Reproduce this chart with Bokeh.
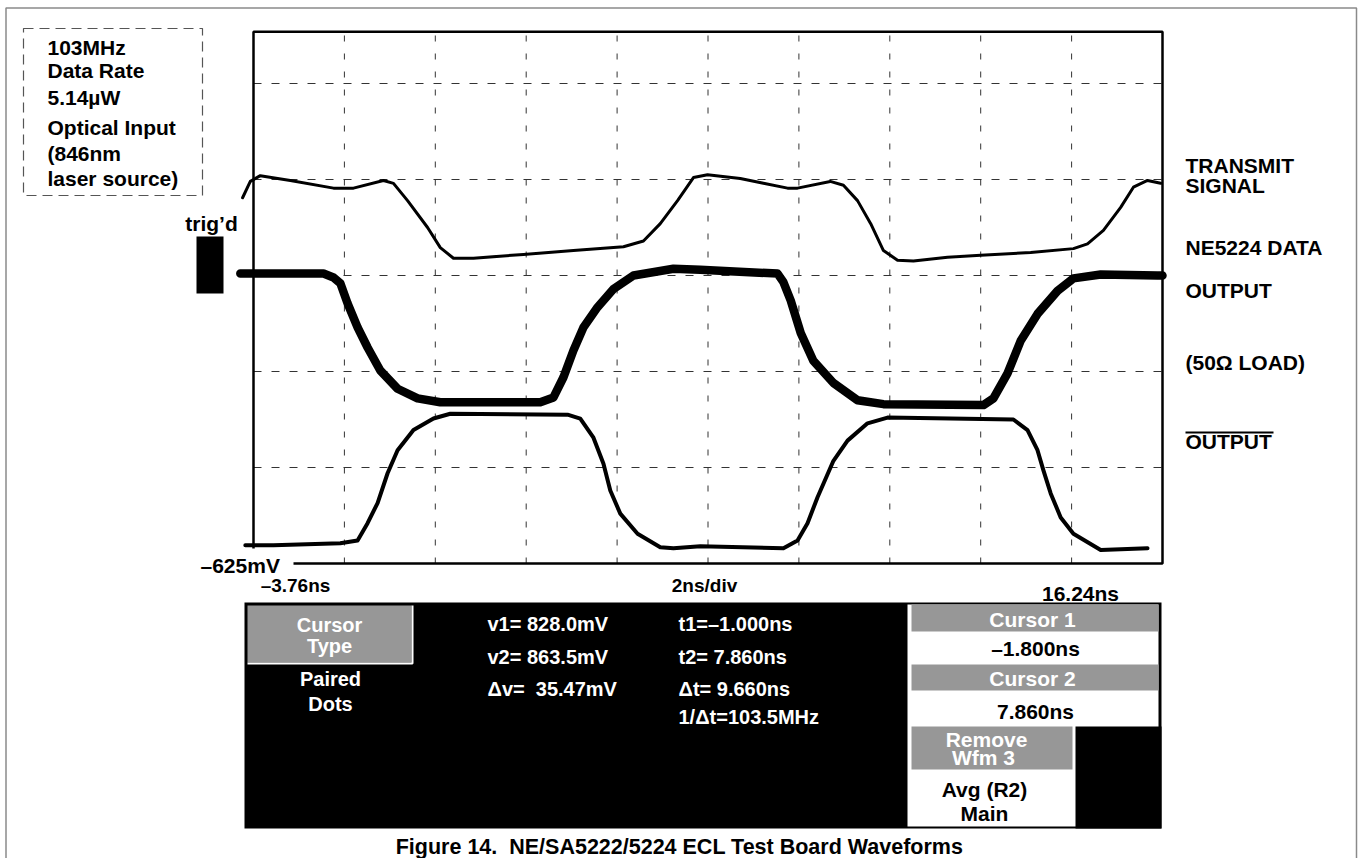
from bokeh.plotting import figure
from bokeh.models import Range1d, Label
from bokeh.embed import file_html
from bokeh.resources import INLINE

# ---------------- data (time in ns, amplitude in screen divisions) ----------------
transmit_t = [-4.00, -3.83, -3.61, -2.95, -2.00, -1.56, -0.90, -0.68, -0.37, 0.07, 0.35, 0.64,
              1.08, 2.18, 3.28, 4.38, 4.82, 5.19, 5.57, 5.92, 6.23, 6.95, 7.46, 7.99, 8.21,
              8.93, 9.22, 9.53, 9.82, 10.10, 10.41, 10.76, 11.51, 12.24, 13.34, 14.28, 14.59,
              14.94, 15.32, 15.60, 15.91, 16.20]
transmit_v = [3.81, 3.98, 4.04, 3.99, 3.91, 3.91, 3.99, 3.96, 3.78, 3.50, 3.29, 3.18,
              3.18, 3.22, 3.26, 3.30, 3.36, 3.54, 3.78, 4.02, 4.05, 4.01, 3.96, 3.91, 3.91,
              3.98, 3.94, 3.78, 3.54, 3.26, 3.16, 3.15, 3.19, 3.21, 3.24, 3.28, 3.33,
              3.47, 3.71, 3.92, 3.99, 3.96]

out_t = [-4.05, -2.22, -2.00, -1.85, -1.69, -1.47, -1.25, -0.97, -0.59, -0.15, 0.35, 2.55,
         2.84, 3.06, 3.28, 3.50, 3.81, 4.16, 4.60, 5.48, 6.07, 7.77, 7.90, 8.06, 8.28, 8.56,
         9.00, 9.53, 10.10, 12.30, 12.52, 12.83, 13.12, 13.49, 13.93, 14.28, 14.88, 16.13, 16.24]
out_v = [3.02, 3.02, 2.98, 2.92, 2.71, 2.46, 2.25, 2.01, 1.82, 1.72, 1.68, 1.68,
         1.73, 1.94, 2.22, 2.46, 2.67, 2.86, 3.00, 3.07, 3.06, 3.02, 2.93, 2.74, 2.40, 2.11,
         1.88, 1.70, 1.66, 1.65, 1.72, 1.98, 2.32, 2.60, 2.84, 2.97, 3.01, 3.00, 3.00]

outbar_t = [-3.94, -3.32, -1.85, -1.47, -1.25, -1.03, -0.81, -0.59, -0.24, 0.20, 0.57, 3.15,
            3.43, 3.72, 3.94, 4.09, 4.31, 4.69, 5.19, 5.48, 6.07, 7.90, 8.21, 8.43, 8.65, 9.00,
            9.31, 9.75, 10.19, 12.96, 13.27, 13.49, 13.62, 13.78, 14.00, 14.28, 14.88, 15.91]
outbar_v = [0.19, 0.19, 0.21, 0.24, 0.42, 0.63, 0.94, 1.18, 1.39, 1.51, 1.56, 1.55,
            1.51, 1.31, 1.04, 0.76, 0.52, 0.31, 0.17, 0.16, 0.18, 0.16, 0.24, 0.42, 0.69, 1.07,
            1.28, 1.46, 1.52, 1.50, 1.39, 1.18, 0.97, 0.73, 0.48, 0.31, 0.14, 0.16]

t_start, t_end = -3.76, 16.24          # screen time span (2 ns/div)
grid_t = [-1.76, 0.24, 2.24, 4.24, 6.24, 8.24, 10.24, 12.24, 14.24]
grid_v = [1, 2, 3, 4, 5]
v_top = 5.54                            # visible top of the screen (divisions)

# ---------------- layout helpers (page pixels -> data) ----------------
PX_NS = 909 / 20.0
PX_DIV = 96.0
X0, Y0 = 253, 563


def tx(px):
    return t_start + (px - X0) / PX_NS


def dy(py):
    return (Y0 - py) / PX_DIV


W, H = 1358, 858
p = figure(width=W, height=H, x_range=Range1d(tx(0), tx(W)), y_range=Range1d(dy(H), dy(0)),
           output_backend="svg", toolbar_location=None, min_border=0,
           x_axis_location=None, y_axis_location=None)
p.outline_line_color = None
p.xgrid.visible = False
p.ygrid.visible = False
p.background_fill_color = "white"
p.border_fill_color = "white"

FONT = "Liberation Sans"
GRAY = "#979797"
NB = "\u00a0"

# outer page frame
p.line([tx(5.5), tx(5.5), tx(1356), tx(1356)], [dy(858), dy(7.5), dy(7.5), dy(858)],
       line_color="#8a8a8a", line_width=1.5)

# dashed info box
p.quad(left=tx(23), right=tx(202), top=dy(28), bottom=dy(195), fill_color=None,
       line_color="#555555", line_width=1.2, line_dash="10 6")

# grid
p.segment(x0=grid_t, x1=grid_t, y0=[0] * len(grid_t), y1=[v_top] * len(grid_t),
          line_color="#333333", line_width=1, line_dash="6 12")
p.segment(x0=[t_start] * len(grid_v), x1=[t_end] * len(grid_v), y0=grid_v, y1=grid_v,
          line_color="#333333", line_width=1, line_dash="8 10")

# screen frame
p.line([t_start, t_start, t_end, t_end, tx(293)], [dy(548), v_top, v_top, 0, 0],
       line_color="black", line_width=2.5)

# traces
p.line(transmit_t, transmit_v, line_color="black", line_width=3, line_join="round", line_cap="round")
p.line(out_t, out_v, line_color="black", line_width=8.5, line_join="round", line_cap="round")
p.line(outbar_t, outbar_v, line_color="black", line_width=4, line_join="round", line_cap="round")

# trig'd marker
p.quad(left=tx(196), right=tx(223), top=dy(236), bottom=dy(293), fill_color="black", line_color=None)

# bottom black panel
p.quad(left=tx(244), right=tx(1161), top=dy(602), bottom=dy(828), fill_color="black", line_color=None)
p.quad(left=tx(247), right=tx(411), top=dy(605), bottom=dy(662), fill_color=GRAY, line_color=None)
p.line([tx(247), tx(412), tx(412)], [dy(663), dy(663), dy(605)], line_color="white", line_width=2)
p.quad(left=tx(907), right=tx(1158), top=dy(604), bottom=dy(826), fill_color="white", line_color=None)
p.quad(left=tx(911), right=tx(1158), top=dy(604), bottom=dy(631), fill_color=GRAY, line_color=None)
p.quad(left=tx(911), right=tx(1158), top=dy(664), bottom=dy(690), fill_color=GRAY, line_color=None)
p.quad(left=tx(911), right=tx(1072), top=dy(726), bottom=dy(769), fill_color=GRAY, line_color=None)
p.quad(left=tx(1075), right=tx(1161), top=dy(726), bottom=dy(828), fill_color="black", line_color=None)

# overline for OUTPUT-bar
p.line([tx(1185), tx(1273)], [dy(432), dy(432)], line_color="black", line_width=2)


def lab(text, x, y, size=21, color="black", align="left"):
    p.add_layout(Label(x=tx(x), y=dy(y), text=text, text_font=FONT, text_font_size=f"{size}px",
                       text_font_style="bold", text_color=color, text_align=align,
                       text_baseline="middle"))


# info box text
for s, yy in [("103MHz", 47), ("Data Rate", 70), ("5.14µW", 97), ("Optical Input", 127),
              ("(846nm", 153), ("laser source)", 178)]:
    lab(s, 47, yy)
lab("trig’d", 211, 223, align="center")
lab("–625mV", 200, 565)
lab("–3.76ns", 295, 585, size=19, align="center")
lab("2ns/div", 704, 585, size=19, align="center")
lab("16.24ns", 1080, 593, align="center")

# right-side labels
for s, yy in [("TRANSMIT", 165), ("SIGNAL", 185), ("NE5224 DATA", 247), ("OUTPUT", 290),
              ("(50Ω LOAD)", 362), ("OUTPUT", 441)]:
    lab(s, 1185, yy)

# panel text
lab("Cursor", 329, 624, size=20, color="white", align="center")
lab("Type", 329, 645, size=20, color="white", align="center")
lab("Paired", 330, 678, size=20, color="white", align="center")
lab("Dots", 330, 703, size=20, color="white", align="center")
for s, yy in [("v1= 828.0mV", 623), ("v2= 863.5mV", 656), ("Δv=" + NB + " 35.47mV", 688)]:
    lab(s, 487, yy, size=20, color="white")
for s, yy in [("t1=–1.000ns", 623), ("t2= 7.860ns", 656), ("Δt= 9.660ns", 688), ("1/Δt=103.5MHz", 716)]:
    lab(s, 678, yy, size=20, color="white")
lab("Cursor 1", 1032, 619, color="white", align="center")
lab("–1.800ns", 1035, 648, align="center")
lab("Cursor 2", 1032, 678, color="white", align="center")
lab("7.860ns", 1035, 711, align="center")
lab("Remove", 986, 739, color="white", align="center")
lab("Wfm 3", 983, 757, color="white", align="center")
lab("Avg (R2)", 984, 789, align="center")
lab("Main", 984, 813, align="center")

# caption
lab("Figure 14." + NB + " NE/SA5222/5224 ECL Test Board Waveforms", 679, 846, size=21.5, align="center")

open("out.html", "w").write(file_html(p, INLINE))
